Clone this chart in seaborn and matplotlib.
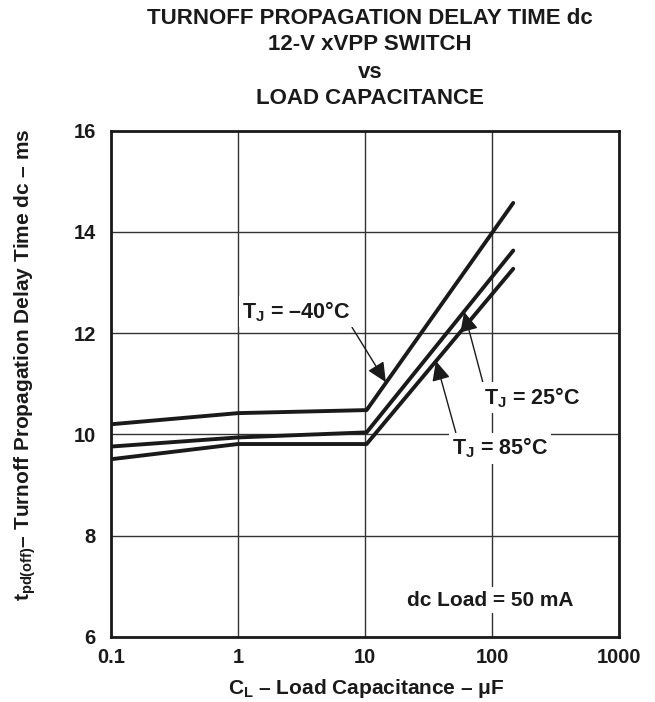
import matplotlib
matplotlib.use("Agg")
import matplotlib.pyplot as plt
import seaborn as sns
import pandas as pd
from matplotlib.ticker import FixedLocator, FixedFormatter, NullLocator

# ---- data ----
cap_uF = [0.1, 1, 10.3, 147]
td_m40 = [10.20, 10.42, 10.48, 14.57]
td_25 = [9.76, 9.94, 10.04, 13.63]
td_85 = [9.51, 9.81, 9.81, 13.27]
series_names = ["-40", "25", "85"]

x_ticks = [0.1, 1, 10, 100, 1000]
x_tick_labels = ["0.1", "1", "10", "100", "1000"]
y_ticks = [6, 8, 10, 12, 14, 16]
y_tick_labels = ["6", "8", "10", "12", "14", "16"]

title_lines = ["TURNOFF PROPAGATION DELAY TIME dc", "12-V xVPP SWITCH", "vs", "LOAD CAPACITANCE"]

sns.set_theme(style="white")
plt.rcParams["font.family"] = ["Liberation Sans", "DejaVu Sans"]
plt.rcParams["font.weight"] = "bold"
plt.rcParams["mathtext.fontset"] = "custom"
plt.rcParams["mathtext.rm"] = "Liberation Sans:bold"
plt.rcParams["mathtext.bf"] = "Liberation Sans:bold"
plt.rcParams["mathtext.it"] = "Liberation Sans:bold"
plt.rcParams["mathtext.default"] = "rm"

df = pd.DataFrame({
    "cap": cap_uF * 3,
    "td": td_m40 + td_25 + td_85,
    "series": [s for s in series_names for _ in cap_uF],
})

fig = plt.figure(figsize=(6.55, 7.02), dpi=100)
ax = fig.add_axes([111 / 655, 1 - 637 / 702, 508 / 655, 506.5 / 702])

sns.lineplot(data=df, x="cap", y="td", units="series", estimator=None,
             color="#1a1a1a", lw=2.8, ax=ax, legend=False, zorder=3)

ax.set_xscale("log")
ax.set_xlim(0.1, 1000)
ax.set_ylim(6, 16)
ax.xaxis.set_major_locator(FixedLocator(x_ticks))
ax.xaxis.set_major_formatter(FixedFormatter(x_tick_labels))
ax.xaxis.set_minor_locator(NullLocator())
ax.yaxis.set_major_locator(FixedLocator(y_ticks))
ax.yaxis.set_major_formatter(FixedFormatter(y_tick_labels))
ax.grid(True, which="major", color="#333333", lw=1.0)
ax.tick_params(axis="both", length=0, labelsize=14.5, colors="#1a1a1a")
ax.tick_params(axis="x", pad=8)
ax.tick_params(axis="y", pad=11)
for lab in ax.get_xticklabels() + ax.get_yticklabels():
    lab.set_fontweight("bold")
for sp in ax.spines.values():
    sp.set_color("#1a1a1a")
    sp.set_linewidth(2.0)
ax.set_xlabel("")
ax.set_ylabel("")

# titles
title_y = [18, 45, 72, 99]
for line, yp in zip(title_lines, title_y):
    fig.text(370 / 655, 1 - yp / 702, line, ha="center", va="center",
             fontsize=16, fontweight="bold", color="#1a1a1a")

fig.text(366 / 655, 1 - 688 / 702, r"C$_\mathregular{L}$ – Load Capacitance – μF",
         ha="center", va="center", fontsize=15, fontweight="bold", color="#1a1a1a")
fig.text(25 / 655, 1 - 365 / 702,
         r"t$_\mathregular{pd(off)}$– Turnoff Propagation Delay Time dc – ms",
         ha="center", va="center", rotation=90, fontsize=15, fontweight="bold",
         color="#1a1a1a")

arrow_kw = dict(arrowstyle="-|>,head_length=0.6,head_width=0.28", color="#1a1a1a",
                lw=1.0, mutation_scale=20, shrinkA=0, shrinkB=0)
bbox_kw = dict(boxstyle="square,pad=0.15", fc="white", ec="none")

ax.annotate(r"T$_\mathregular{J}$ = –40°C", xy=(14.6, 11.03), xytext=(2.86, 12.42),
            ha="center", va="center", fontsize=15.5, fontweight="bold", color="#1a1a1a",
            bbox=bbox_kw, arrowprops=dict(relpos=(1.0, 0.0), **arrow_kw), zorder=4)
ax.annotate(r"T$_\mathregular{J}$ = 25°C", xy=(60.3, 12.42), xytext=(206, 10.72),
            ha="center", va="center", fontsize=15.5, fontweight="bold", color="#1a1a1a",
            bbox=bbox_kw, arrowprops=dict(relpos=(0.0, 1.0), **arrow_kw), zorder=4)
ax.annotate(r"T$_\mathregular{J}$ = 85°C", xy=(36.2, 11.45), xytext=(115.6, 9.73),
            ha="center", va="center", fontsize=15.5, fontweight="bold", color="#1a1a1a",
            bbox=bbox_kw, arrowprops=dict(relpos=(0.05, 1.0), **arrow_kw), zorder=4)
ax.text(96.4, 6.73, "dc Load = 50 mA", ha="center", va="center", fontsize=15,
        fontweight="bold", color="#1a1a1a", bbox=bbox_kw, zorder=4)

fig.savefig("out.png", dpi=100)
